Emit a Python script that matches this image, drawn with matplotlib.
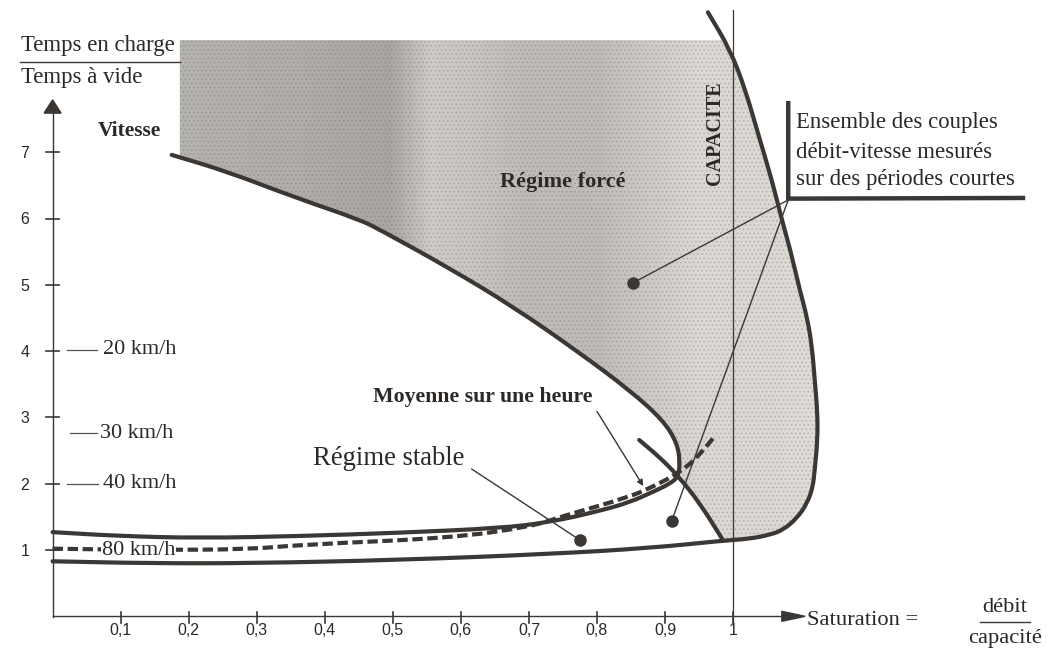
import numpy as np
import matplotlib
matplotlib.use("Agg")
import matplotlib.pyplot as plt
from matplotlib.patches import Polygon, PathPatch
from matplotlib.path import Path

# ---------------- data ----------------
x_ticks = [0.1, 0.2, 0.3, 0.4, 0.5, 0.6, 0.7, 0.8, 0.9, 1.0]
x_tick_labels = ["0,1", "0,2", "0,3", "0,4", "0,5", "0,6", "0,7", "0,8", "0,9", "1"]
y_ticks = [1, 2, 3, 4, 5, 6, 7]
y_tick_labels = ["1", "2", "3", "4", "5", "6", "7"]

# boundary of "régime forcé" going down to the nose, then back along "régime stable"
regime_x = [0.175, 0.256, 0.353, 0.452, 0.481, 0.580, 0.677, 0.775, 0.848, 0.897,
            0.918, 0.922, 0.919, 0.907, 0.885, 0.848, 0.804, 0.731, 0.658, 0.510,
            0.364, 0.217, 0.099, 0.0]
regime_y = [6.96, 6.71, 6.33, 5.98, 5.83, 5.27, 4.67, 3.97, 3.41, 2.96,
            2.61, 2.31, 2.10, 2.00, 1.89, 1.72, 1.59, 1.42, 1.33, 1.26,
            1.21, 1.18, 1.21, 1.27]
nose_index = 11  # index of the nose in regime arrays

# lower curve turning up at capacity
capacity_x = [0.0, 0.143, 0.290, 0.511, 0.731, 0.878, 0.984, 1.025, 1.054, 1.073,
              1.094, 1.109, 1.117, 1.120, 1.124, 1.124, 1.120, 1.116, 1.109, 1.098,
              1.084, 1.073, 1.057, 1.035, 1.018, 0.996, 0.963]
capacity_y = [0.83, 0.80, 0.80, 0.85, 0.94, 1.03, 1.14, 1.17, 1.23, 1.30,
              1.48, 1.71, 1.94, 2.21, 2.66, 3.07, 3.56, 4.06, 4.50, 4.92,
              5.53, 5.93, 6.58, 7.34, 7.94, 8.54, 9.11]
capacity_corner = 6  # index where the lower curve meets the descending line

# descending curve crossing the nose
cross_x = [0.862, 0.893, 0.918, 0.951, 0.985]
cross_y = [2.66, 2.39, 2.13, 1.71, 1.15]

# hourly average (dashed)
hour_x = [0.0, 0.143, 0.290, 0.364, 0.584, 0.702, 0.746, 0.848, 0.885, 0.918, 0.944, 0.971]
hour_y = [1.02, 1.00, 1.01, 1.08, 1.18, 1.35, 1.50, 1.80, 1.97, 2.15, 2.36, 2.69]

# measured points
pts_x = [0.853, 0.775, 0.910]
pts_y = [5.03, 1.15, 1.445]

# speed scale
speed_levels = [4.02, 2.76, 2.0, 1.0]
speed_labels = ["20 km/h", "30 km/h", "40 km/h", "80 km/h"]

# ---------------- style ----------------
INK = "#3a3734"
TXT = "#2b2826"
SERIF = ["Liberation Serif", "DejaVu Serif"]
SANS = ["Liberation Sans", "DejaVu Sans"]

fig = plt.figure(figsize=(10.63, 6.49), dpi=100)
ax = fig.add_axes([0, 0, 1, 1])
XL = (-0.0773, 1.4848)
YL = (-0.493, 9.296)


def smooth_path(xs, ys):
    """Quadratic Bezier path through the midpoints, using the points as controls."""
    p = list(zip(xs, ys))
    verts = [p[0]]
    codes = [Path.MOVETO]
    if len(p) > 2:
        m = ((p[0][0] + p[1][0]) / 2, (p[0][1] + p[1][1]) / 2)
        verts.append(m)
        codes.append(Path.LINETO)
        for i in range(1, len(p) - 1):
            m = ((p[i][0] + p[i + 1][0]) / 2, (p[i][1] + p[i + 1][1]) / 2)
            verts += [p[i], m]
            codes += [Path.CURVE3, Path.CURVE3]
    verts.append(p[-1])
    codes.append(Path.LINETO)
    return Path(verts, codes)


def draw_curve(xs, ys, capstyle="round", **kw):
    patch = PathPatch(smooth_path(xs, ys), facecolor="none", edgecolor=INK,
                      capstyle=capstyle, joinstyle="round", **kw)
    ax.add_patch(patch)
    return patch


# ---------------- shaded zone ----------------
y_top = 8.69
x_left = 0.187
up_cy = capacity_y[capacity_corner:]
up_cx = capacity_x[capacity_corner:]
x_cap_top = float(np.interp(y_top, up_cy, up_cx))
verts = [(x_left, y_top), (x_cap_top, y_top)]
for cx, cy in reversed(list(zip(up_cx, up_cy))):
    if cy < y_top:
        verts.append((cx, cy))
for cx, cy in reversed(list(zip(cross_x[2:], cross_y[2:]))):
    verts.append((cx, cy))
for rx, ry in reversed(list(zip(regime_x[:nose_index + 1], regime_y[:nose_index + 1]))):
    verts.append((rx, ry))
verts.append((x_left, float(np.interp(x_left, regime_x[:3], regime_y[:3]))))
shade = Polygon(verts, closed=True, facecolor="none", edgecolor="none")
ax.add_patch(shade)

tone_x = [0.187, 0.364, 0.496, 0.555, 0.614, 0.687, 0.804, 0.878, 0.951, 1.04, 1.128]
tone_v = [0.71, 0.69, 0.66, 0.81, 0.79, 0.75, 0.75, 0.81, 0.86, 0.86, 0.88]
gx = np.linspace(0.18, 1.13, 400)
t = np.interp(gx, tone_x, tone_v)
rgb = np.stack([t, t * 0.985, t * 0.965], axis=-1)[np.newaxis, :, :]
im = ax.imshow(rgb, extent=[0.18, 1.13, 1.0, 8.8], aspect="auto",
               interpolation="bilinear", zorder=1)
im.set_clip_path(shade)
plt.rcParams["hatch.linewidth"] = 0.6
stip = Polygon(verts, closed=True, facecolor="none", edgecolor=(0.45, 0.43, 0.41, 0.35),
               hatch="....", linewidth=0, zorder=1.5)
ax.add_patch(stip)

# ---------------- axes ----------------
ax.plot([0, 0], [-0.01, 7.6], color=INK, lw=1.0, zorder=3)
ax.fill([-0.0125, 0.0125, 0.0], [7.59, 7.59, 7.79], color=INK, zorder=3)
ax.plot([0, 1.072], [0, 0], color=INK, lw=1.0, zorder=3)
ax.fill([1.0716, 1.0716, 1.1058], [-0.0754, 0.0754, 0.0], color=INK, zorder=3)
for xt, lab in zip(x_ticks, x_tick_labels):
    ax.plot([xt, xt], [-0.10, 0.065], color=INK, lw=1.2, zorder=3)
    ax.text(xt, -0.285, lab, ha="center", va="baseline", fontsize=11.5,
            family=SANS, color=TXT)
for yt, lab in zip(y_ticks, y_tick_labels):
    ax.plot([-0.009, 0.009], [yt, yt], color=INK, lw=1.2, zorder=3)
    ax.text(-0.041, yt - 0.09, lab, ha="center", va="baseline", fontsize=11.5,
            family=SANS, color=TXT)

# capacity vertical line
ax.plot([1.0, 1.0], [-0.13, 9.15], color=INK, lw=0.9, zorder=3)

# ---------------- curves ----------------
draw_curve(regime_x, regime_y, lw=3.0, zorder=4)
draw_curve(capacity_x, capacity_y, lw=3.0, zorder=4)
draw_curve(cross_x, cross_y, lw=3.0, zorder=4)
draw_curve(hour_x, hour_y, capstyle="butt", lw=3.0, linestyle=(0, (2.5, 1.1)), zorder=4)
ax.plot(pts_x, pts_y, "o", color=INK, markersize=8, zorder=5)

# annotation lines
corner = (1.081, 6.28)
ax.plot([corner[0], pts_x[0]], [corner[1], pts_y[0]], color=INK, lw=1.0, zorder=4)
ax.plot([corner[0], pts_x[2]], [corner[1], pts_y[2]], color=INK, lw=1.0, zorder=4)
ax.plot([0.616, pts_x[1]], [2.22, pts_y[1]], color=INK, lw=1.0, zorder=4)
ax.annotate("", xy=(0.868, 1.965), xytext=(0.800, 3.09),
            arrowprops=dict(arrowstyle="-|>", color=INK, lw=1.0,
                            mutation_scale=9, shrinkA=0, shrinkB=0), zorder=4)

# bracket
ax.plot([1.081, 1.081, 1.426], [7.74, 6.30, 6.31], color=INK, lw=3.2,
        solid_joinstyle="miter", zorder=4)

# ---------------- speed scale ----------------
seg_x0 = [0.0207, 0.0256, 0.0212]
seg_x1 = [0.0648, 0.0652, 0.0667]
lab_x = [0.074, 0.0697, 0.074, 0.0726]
for i, (lev, lab) in enumerate(zip(speed_levels, speed_labels)):
    if i < 3:
        ax.plot([seg_x0[i], seg_x1[i]], [lev, lev], color="#555250", lw=0.9, zorder=3)
        ax.text(lab_x[i], lev, lab, ha="left", va="center", fontsize=16,
                family=SERIF, color=TXT, zorder=6)
    else:
        ax.text(lab_x[i], lev, lab, ha="left", va="center", fontsize=16,
                family=SERIF, color=TXT, zorder=6,
                bbox=dict(facecolor="white", edgecolor="none", pad=0.5))

# ---------------- texts ----------------
ax.text(-0.0469, 8.53, "Temps en charge", ha="left", va="baseline", fontsize=16.4,
        family=SERIF, color=TXT)
ax.plot([-0.0479, 0.1874], [8.36, 8.36], color=INK, lw=1.0)
ax.text(-0.0469, 8.05, "Temps à vide", ha="left", va="baseline", fontsize=16.4,
        family=SERIF, color=TXT)
ax.text(0.0667, 7.24, "Vitesse", ha="left", va="baseline", fontsize=15.5,
        family=SERIF, weight="bold", color=TXT)
ax.text(0.658, 6.48, "Régime forcé", ha="left", va="baseline", fontsize=16,
        family=SERIF, weight="bold", color=TXT, zorder=6)
ax.text(0.471, 3.24, "Moyenne sur une heure", ha="left", va="baseline", fontsize=15.7,
        family=SERIF, weight="bold", color=TXT, zorder=6)
ax.text(0.383, 2.28, "Régime stable", ha="left", va="baseline", fontsize=19.2,
        family=SERIF, color=TXT, zorder=6)
ax.text(0.9727, 7.28, "CAPACITE", ha="center", va="center", rotation=90,
        fontsize=14.5, family=SERIF, weight="bold", color=TXT, zorder=6)
for txt, yb in zip(["Ensemble des couples", "débit-vitesse mesurés",
                    "sur des périodes courtes"], [7.37, 6.91, 6.505]):
    ax.text(1.0925, yb, txt, ha="left", va="baseline", fontsize=16.4,
            family=SERIF, color=TXT, zorder=6)
ax.text(1.109, -0.131, "Saturation =", ha="left", va="baseline", fontsize=16.2,
        family=SERIF, color=TXT)
ax.text(1.3996, 0.069, "débit", ha="center", va="baseline", fontsize=16.2,
        family=SERIF, color=TXT)
ax.plot([1.3628, 1.4363], [-0.081, -0.081], color=INK, lw=1.0)
ax.text(1.3996, -0.407, "capacité", ha="center", va="baseline", fontsize=16.2,
        family=SERIF, color=TXT)

ax.set_xlim(*XL)
ax.set_ylim(*YL)
ax.axis("off")
fig.savefig("out.png", dpi=100)
